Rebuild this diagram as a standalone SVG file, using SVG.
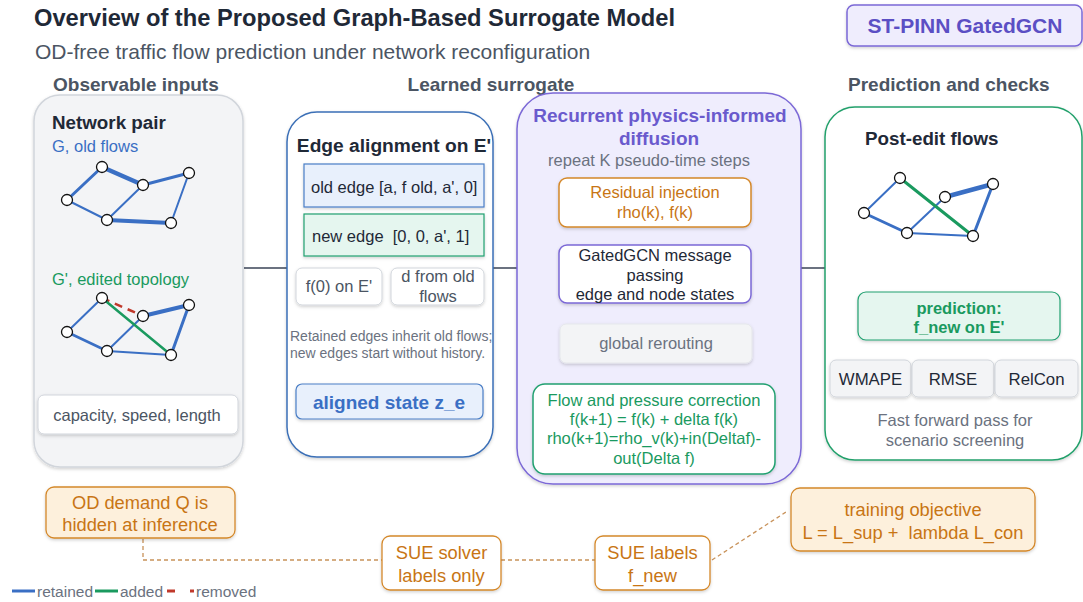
<svg xmlns="http://www.w3.org/2000/svg" width="1083" height="602" viewBox="0 0 1083 602">
<defs>
<filter id="sh" x="-10%" y="-10%" width="120%" height="130%">
<feDropShadow dx="0" dy="1.5" stdDeviation="1.5" flood-color="#000" flood-opacity="0.18"/>
</filter>
<marker id="ah" markerWidth="10" markerHeight="10" refX="6" refY="5" orient="auto" markerUnits="userSpaceOnUse">
<path d="M1,1 L6,5 L1,9" fill="none" stroke="#7a5aa8" stroke-width="2"/>
</marker>
<marker id="ahl" markerWidth="16" markerHeight="16" refX="2" refY="8" orient="auto" markerUnits="userSpaceOnUse">
<path d="M10,2 L2,8 L10,14" fill="none" stroke="#7a5aa8" stroke-width="2.6"/>
</marker>
</defs>
<style>
text{font-family:"Liberation Sans",Arial,sans-serif}
.h{font-size:19px;font-weight:bold;fill:#4b5563}
.t{font-size:16.5px}
.o{font-size:18.3px}
.hb{font-size:18.8px;font-weight:bold}
.b{fill:#3a6fc4;stroke:#3a6fc4;stroke-linecap:round}
.g{stroke:#1a9a5f;stroke-linecap:round}
.r{stroke:#c0392b;stroke-dasharray:8 6}
.n{fill:#fff;stroke:#111;stroke-width:1.3}
.gr{fill:#4b5563}
.or{fill:#c87514}
.dash{fill:none;stroke:#c8925a;stroke-width:1.3;stroke-dasharray:4 3}
</style>

<rect width="1083" height="602" fill="#fff"/>

<g id="title">
<text x="34" y="26" font-size="23.7" font-weight="bold" fill="#1f2937">Overview of the Proposed Graph-Based Surrogate Model</text>
<text x="35" y="59" font-size="21" fill="#4b5563">OD-free traffic flow prediction under network reconfiguration</text>
</g>
<g id="badge">
<rect x="847" y="5" width="235" height="41" rx="7" fill="#efedfd" stroke="#7b68d6" stroke-width="1.5" filter="url(#sh)"/>
<text x="965" y="33" text-anchor="middle" font-size="21" font-weight="bold" fill="#5b4fc4">ST-PINN GatedGCN</text>
</g>
<g id="headers">
<text class="h" x="53" y="91">Observable inputs</text>
<text class="h" x="491" y="91" text-anchor="middle">Learned surrogate</text>
<text class="h" x="848" y="91">Prediction and checks</text>
</g>

<g id="connectors">
<line x1="244" y1="268" x2="288" y2="268" stroke="#6b7280" stroke-width="2"/>
<line x1="493" y1="268" x2="518" y2="268" stroke="#6b7280" stroke-width="2"/>
<line x1="801" y1="268" x2="826" y2="268" stroke="#6b7280" stroke-width="2"/>
<line x1="655" y1="228" x2="655" y2="242" stroke="#7a5aa8" stroke-width="2" marker-end="url(#ah)"/>
<line x1="655" y1="304" x2="655" y2="321" stroke="#7a5aa8" stroke-width="2" marker-end="url(#ah)"/>
<line x1="655" y1="364" x2="655" y2="381" stroke="#7a5aa8" stroke-width="2" marker-end="url(#ah)"/>
<polyline points="776,408 787,408 787,202 755,202" fill="none" stroke="#7a5aa8" stroke-width="2.6" marker-end="url(#ahl)"/>
<polyline class="dash" points="143,539 143,560 382,560"/>
<line class="dash" x1="501" y1="560" x2="595" y2="560"/>
<line class="dash" x1="712" y1="560" x2="786" y2="512"/>
</g>

<g id="panel-inputs">
<rect x="34" y="95" width="209" height="372" rx="26" fill="#f3f4f6" stroke="#d1d5db" stroke-width="1.5" filter="url(#sh)"/>
<text x="52" y="129" class="hb" fill="#1f2937">Network pair</text>
<text x="52" y="152" class="t" fill="#3a6fc4">G, old flows</text>
<g id="graph-old">
<line class="b" x1="67" y1="200" x2="102" y2="167" stroke-width="3"/>
<line class="b" x1="102" y1="167" x2="143" y2="185" stroke-width="4.5"/>
<line class="b" x1="143" y1="185" x2="189" y2="173" stroke-width="3"/>
<line class="b" x1="67" y1="200" x2="107" y2="220" stroke-width="2"/>
<line class="b" x1="107" y1="220" x2="143" y2="185" stroke-width="2"/>
<line class="b" x1="107" y1="220" x2="171" y2="223" stroke-width="4"/>
<line class="b" x1="171" y1="223" x2="189" y2="173" stroke-width="2"/>
<circle class="n" cx="102" cy="167" r="5.5"/><circle class="n" cx="143" cy="185" r="5.5"/><circle class="n" cx="189" cy="173" r="5.5"/>
<circle class="n" cx="67" cy="200" r="5.5"/><circle class="n" cx="107" cy="220" r="5.5"/><circle class="n" cx="171" cy="223" r="5.5"/>
</g>
<text x="52" y="285" class="t" fill="#1a9a5f">G', edited topology</text>
<g id="graph-edited">
<line class="b" x1="67" y1="332" x2="102" y2="298" stroke-width="2"/>
<line class="r" x1="102" y1="298" x2="143" y2="316" stroke-width="2.5"/>
<line class="b" x1="143" y1="316" x2="189" y2="305" stroke-width="4"/>
<line class="b" x1="67" y1="332" x2="107" y2="351" stroke-width="2.5"/>
<line class="b" x1="107" y1="351" x2="143" y2="316" stroke-width="2"/>
<line class="b" x1="107" y1="351" x2="171" y2="355" stroke-width="2"/>
<line class="b" x1="171" y1="355" x2="189" y2="305" stroke-width="3"/>
<line class="g" x1="102" y1="298" x2="171" y2="355" stroke-width="2.5"/>
<circle class="n" cx="102" cy="298" r="5.5"/><circle class="n" cx="143" cy="316" r="5.5"/><circle class="n" cx="189" cy="305" r="5.5"/>
<circle class="n" cx="67" cy="332" r="5.5"/><circle class="n" cx="107" cy="351" r="5.5"/><circle class="n" cx="171" cy="355" r="5.5"/>
</g>
<rect x="38" y="395" width="200" height="39" rx="6" fill="#fff" stroke="#d1d5db" filter="url(#sh)"/>
<text x="137" y="421" text-anchor="middle" class="t gr">capacity, speed, length</text>
</g>

<g id="panel-alignment">
<rect x="287" y="112" width="206" height="345" rx="30" fill="#fff" stroke="#3b6fb6" stroke-width="1.5" filter="url(#sh)"/>
<text x="394" y="152" text-anchor="middle" font-size="19.2" font-weight="bold" fill="#1f2937">Edge alignment on E'</text>
<rect x="304" y="164" width="180" height="43" fill="#e8f0fc" stroke="#4a7ec6" stroke-width="1.2" filter="url(#sh)"/>
<text x="311" y="193" class="t" fill="#1f2937">old edge [a, f old, a', 0]</text>
<rect x="304" y="214" width="180" height="42" fill="#e5f6ef" stroke="#20a070" stroke-width="1.2" filter="url(#sh)"/>
<text x="312" y="242" class="t" fill="#1f2937" xml:space="preserve">new edge  [0, 0, a', 1]</text>
<rect x="296" y="268" width="86" height="37" rx="6" fill="#fff" stroke="#d1d5db" filter="url(#sh)"/>
<text x="339" y="292" text-anchor="middle" class="t gr">f(0) on E'</text>
<rect x="391" y="268" width="93" height="37" rx="6" fill="#fff" stroke="#d1d5db" filter="url(#sh)"/>
<text x="438" y="282" text-anchor="middle" class="t gr">d from old</text>
<text x="438" y="302" text-anchor="middle" class="t gr">flows</text>
<text x="290" y="341" font-size="14" fill="#6b7280">Retained edges inherit old flows;</text>
<text x="290" y="358" font-size="14" fill="#6b7280">new edges start without history.</text>
<rect x="296" y="384" width="187" height="35" rx="6" fill="#e8f0fc" stroke="#4a7ec6" stroke-width="1.2" filter="url(#sh)"/>
<text x="389" y="409" text-anchor="middle" font-size="19" font-weight="bold" fill="#3a6fc4">aligned state z_e</text>
</g>

<g id="panel-diffusion">
<rect x="517" y="93" width="284" height="391" rx="36" fill="#efedfd" stroke="#7b68d6" stroke-width="1.5" filter="url(#sh)"/>
<text x="660" y="122" text-anchor="middle" font-size="19" font-weight="bold" fill="#6a5acd">Recurrent physics-informed</text>
<text x="659" y="145" text-anchor="middle" font-size="19" font-weight="bold" fill="#6a5acd">diffusion</text>
<text x="649" y="166" text-anchor="middle" font-size="16.5" fill="#6b7280">repeat K pseudo-time steps</text>
<g id="residual">
<rect x="559" y="178" width="192" height="49" rx="8" fill="#fff" stroke="#d4882a" stroke-width="1.5" filter="url(#sh)"/>
<text x="655" y="198" text-anchor="middle" class="t or">Residual injection</text>
<text x="655" y="218" text-anchor="middle" class="t or">rho(k), f(k)</text>
</g>
<g id="gatedgcn">
<rect x="559" y="245" width="192" height="58" rx="8" fill="#fff" stroke="#7b68d6" stroke-width="1.5" filter="url(#sh)"/>
<text x="655" y="261" text-anchor="middle" class="t" fill="#1f2937">GatedGCN message</text>
<text x="655" y="281" text-anchor="middle" class="t" fill="#1f2937">passing</text>
<text x="655" y="300" text-anchor="middle" class="t" fill="#1f2937">edge and node states</text>
</g>
<g id="rerouting">
<rect x="560" y="324" width="192" height="39" rx="6" fill="#f3f4f6" stroke="#e5e7eb" filter="url(#sh)"/>
<text x="656" y="349" text-anchor="middle" class="t" fill="#6b7280">global rerouting</text>
</g>
<g id="correction">
<rect x="533" y="384" width="242" height="90" rx="12" fill="#fff" stroke="#20a070" stroke-width="1.5" filter="url(#sh)"/>
<text x="654" y="406" text-anchor="middle" class="t" fill="#1a9a5f">Flow and pressure correction</text>
<text x="654" y="425" text-anchor="middle" class="t" fill="#1a9a5f">f(k+1) = f(k) + delta f(k)</text>
<text x="654" y="444" text-anchor="middle" class="t" fill="#1a9a5f">rho(k+1)=rho_v(k)+in(Deltaf)-</text>
<text x="654" y="464" text-anchor="middle" class="t" fill="#1a9a5f">out(Delta f)</text>
</g>
</g>

<g id="panel-prediction">
<rect x="825" y="107" width="257" height="353" rx="30" fill="#fff" stroke="#22a06b" stroke-width="1.5" filter="url(#sh)"/>
<text x="865" y="145" class="hb" fill="#1f2937">Post-edit flows</text>
<g id="graph-pred">
<line class="b" x1="864" y1="213" x2="900" y2="178" stroke-width="2"/>
<line class="b" x1="945" y1="197" x2="993" y2="184" stroke-width="4.5"/>
<line class="b" x1="864" y1="213" x2="907" y2="233" stroke-width="3"/>
<line class="b" x1="907" y1="233" x2="945" y2="197" stroke-width="2"/>
<line class="b" x1="907" y1="233" x2="973" y2="236" stroke-width="2"/>
<line class="b" x1="973" y1="236" x2="993" y2="184" stroke-width="3"/>
<line class="g" x1="900" y1="178" x2="973" y2="236" stroke-width="3"/>
<circle class="n" cx="900" cy="178" r="5.5"/><circle class="n" cx="945" cy="197" r="5.5"/><circle class="n" cx="993" cy="184" r="5.5"/>
<circle class="n" cx="864" cy="213" r="5.5"/><circle class="n" cx="907" cy="233" r="5.5"/><circle class="n" cx="973" cy="236" r="5.5"/>
</g>
<rect x="858" y="292" width="202" height="48" rx="8" fill="#e5f6ef" stroke="#20a070" stroke-width="1.2" filter="url(#sh)"/>
<text x="959" y="314" text-anchor="middle" font-size="16.5" font-weight="bold" fill="#1a9a5f">prediction:</text>
<text x="959" y="333" text-anchor="middle" font-size="16.5" font-weight="bold" fill="#1a9a5f">f_new on E'</text>
<rect x="830" y="360" width="81" height="37" rx="6" fill="#f3f4f6" stroke="#d1d5db" filter="url(#sh)"/>
<text x="870.5" y="385" text-anchor="middle" font-size="16.8" fill="#1f2937">WMAPE</text>
<rect x="912" y="360" width="82" height="37" rx="6" fill="#f3f4f6" stroke="#d1d5db" filter="url(#sh)"/>
<text x="953" y="385" text-anchor="middle" font-size="16.8" fill="#1f2937">RMSE</text>
<rect x="995" y="360" width="83" height="37" rx="6" fill="#f3f4f6" stroke="#d1d5db" filter="url(#sh)"/>
<text x="1036.5" y="385" text-anchor="middle" font-size="16.8" fill="#1f2937">RelCon</text>
<text x="955" y="426" text-anchor="middle" class="t" fill="#6b7280">Fast forward pass for</text>
<text x="955" y="446" text-anchor="middle" class="t" fill="#6b7280">scenario screening</text>
</g>

<g id="od-hidden">
<rect x="46" y="487" width="189" height="51" rx="8" fill="#fdf0dc" stroke="#d4882a" stroke-width="1.3" filter="url(#sh)"/>
<text x="140" y="509" text-anchor="middle" class="o or">OD demand Q is</text>
<text x="140" y="531" text-anchor="middle" class="o or">hidden at inference</text>
</g>
<g id="sue-solver">
<rect x="382" y="536" width="119" height="54" rx="8" fill="#fff" stroke="#d4882a" stroke-width="1.3" filter="url(#sh)"/>
<text x="441.5" y="559" text-anchor="middle" class="o or">SUE solver</text>
<text x="441.5" y="582" text-anchor="middle" class="o or">labels only</text>
</g>
<g id="sue-labels">
<rect x="595" y="536" width="115" height="54" rx="8" fill="#fff" stroke="#d4882a" stroke-width="1.3" filter="url(#sh)"/>
<text x="652.5" y="559" text-anchor="middle" class="o or">SUE labels</text>
<text x="652.5" y="582" text-anchor="middle" class="o or">f_new</text>
</g>
<g id="training-objective">
<rect x="791" y="488" width="244" height="63" rx="9" fill="#fdf0dc" stroke="#d4882a" stroke-width="1.3" filter="url(#sh)"/>
<text x="913" y="516" text-anchor="middle" class="o or">training objective</text>
<text x="913" y="539" text-anchor="middle" class="o or" xml:space="preserve">L = L_sup +  lambda L_con</text>
</g>

<g id="legend">
<line x1="12" y1="591" x2="35" y2="591" stroke="#3a6fc4" stroke-width="3"/>
<text x="37" y="597" font-size="15.5" fill="#6b7280">retained</text>
<line x1="95" y1="591" x2="118" y2="591" stroke="#1a9a5f" stroke-width="3"/>
<text x="120" y="597" font-size="15.5" fill="#6b7280">added</text>
<line x1="167" y1="591" x2="194" y2="591" stroke="#c0392b" stroke-width="3" stroke-dasharray="8 15"/>
<text x="196" y="597" font-size="15.5" fill="#6b7280">removed</text>
</g>
</svg>
